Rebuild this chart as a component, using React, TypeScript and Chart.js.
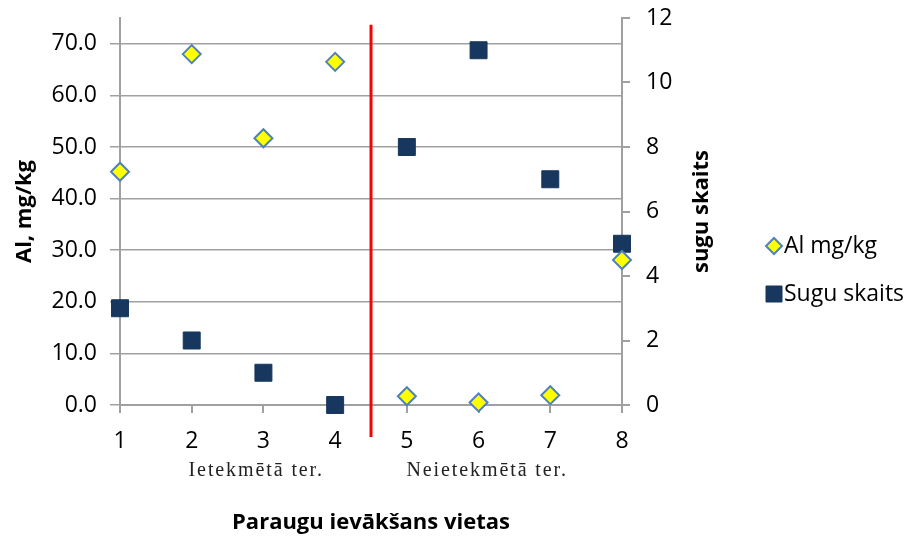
import React, { useEffect, useRef } from 'react';
import { Chart, registerables } from 'chart.js';

Chart.register(...registerables);

const sites = [1, 2, 3, 4, 5, 6, 7, 8];
const alValues = [45.2, 68.0, 51.7, 66.5, 1.7, 0.5, 1.9, 28.1];
const speciesCounts = [3, 2, 1, 0, 8, 11, 7, 5];
const leftTickValues = [0, 10, 20, 30, 40, 50, 60, 70];
const rightTickValues = [0, 2, 4, 6, 8, 10, 12];
const groupLabels = ['Ietekmētā ter.', 'Neietekmētā ter.'];
const groupCenters = [2.9, 6.12];
const dividerX = 4.5;
const dividerTop = 73.7;

const FONT = '"Open Sans"';
const TICK_SIZE = 23;
const TITLE_SIZE = 22;

function drawMarker(ctx: CanvasRenderingContext2D, style: string, x: number, y: number, half: number, fill: string, stroke: string, lw: number) {
  ctx.beginPath();
  if (style === 'rectRot') {
    ctx.moveTo(x, y - half);
    ctx.lineTo(x + half, y);
    ctx.lineTo(x, y + half);
    ctx.lineTo(x - half, y);
    ctx.closePath();
  } else {
    ctx.rect(x - half, y - half, half * 2, half * 2);
  }
  ctx.fillStyle = fill;
  ctx.fill();
  ctx.lineWidth = lw;
  ctx.strokeStyle = stroke;
  ctx.stroke();
}

const noOverhang = (s: any) => {
  s.paddingTop = 0;
  s.paddingBottom = 0;
};

const extrasPlugin = {
  id: 'extras',
  afterDatasetsDraw(chart: any) {
    const { ctx, chartArea } = chart;
    const xs = chart.scales.x;
    const ys = chart.scales.y;
    ctx.save();
    ctx.strokeStyle = '#FF0000';
    ctx.lineWidth = 3;
    const px = xs.getPixelForValue(dividerX);
    ctx.beginPath();
    ctx.moveTo(px, ys.getPixelForValue(dividerTop));
    ctx.lineTo(px, chartArea.bottom + 32);
    ctx.stroke();
    ctx.restore();
  },
  afterDraw(chart: any) {
    const { ctx, chartArea } = chart;
    const xs = chart.scales.x;
    ctx.save();
    // group labels under the x axis
    ctx.fillStyle = '#222';
    ctx.font = '20px "Liberation Serif"';
    (ctx as any).letterSpacing = '1.9px';
    ctx.textAlign = 'center';
    ctx.textBaseline = 'alphabetic';
    groupLabels.forEach((t, i) => {
      ctx.fillText(t, xs.getPixelForValue(groupCenters[i]), chartArea.bottom + 71);
    });
    (ctx as any).letterSpacing = '0px';

    // legend
    const legendX = 774;
    const legendY0 = 246;
    const legendGap = 48;
    ctx.font = `${TICK_SIZE}px ${FONT}`;
    ctx.textAlign = 'left';
    ctx.textBaseline = 'middle';
    chart.data.datasets.forEach((ds: any, i: number) => {
      const y = legendY0 + i * legendGap;
      drawMarker(ctx, ds.pointStyle, legendX, y, 8, ds.backgroundColor, ds.borderColor, ds.pointStyle === 'rectRot' ? 2 : 1);
      ctx.fillStyle = '#000';
      ctx.fillText(ds.label, 784, y);
    });

    // right axis title, reading bottom-to-top
    ctx.translate(702, (chartArea.top + chartArea.bottom) / 2);
    ctx.rotate(-Math.PI / 2);
    ctx.fillStyle = '#000';
    ctx.font = `bold ${TITLE_SIZE}px ${FONT}`;
    ctx.textAlign = 'center';
    ctx.textBaseline = 'middle';
    ctx.fillText('sugu skaits', 0, 0);
    ctx.restore();
  },
};

export default function App() {
  const ref = useRef<HTMLCanvasElement>(null);
  useEffect(() => {
    document.body.style.margin = '0';
    const gridGrey = '#A0A0A0';
    const chart = new Chart(ref.current as HTMLCanvasElement, {
      type: 'scatter',
      data: {
        datasets: [
          {
            label: 'Al mg/kg',
            data: sites.map((s, i) => ({ x: s, y: alValues[i] })),
            yAxisID: 'y',
            pointStyle: 'rectRot',
            pointRadius: 9,
            pointHoverRadius: 9,
            backgroundColor: '#FFFF00',
            borderColor: '#4F81BD',
            borderWidth: 2,
            clip: false,
            order: 1,
          },
          {
            label: 'Sugu skaits',
            data: sites.map((s, i) => ({ x: s, y: speciesCounts[i] })),
            yAxisID: 'y1',
            pointStyle: 'rect',
            pointRadius: 12,
            pointHoverRadius: 12,
            backgroundColor: '#17375E',
            borderColor: '#17375E',
            borderWidth: 1,
            clip: false,
            order: 2,
          },
        ],
      },
      options: {
        responsive: false,
        animation: false,
        layout: { padding: { top: 18, left: 0, right: 0, bottom: 0 } },
        plugins: {
          tooltip: { enabled: false },
          legend: { display: false },
        },
        scales: {
          x: {
            type: 'linear',
            min: 1,
            max: 8,
            afterBuildTicks: (s: any) => {
              s.ticks = sites.map((v) => ({ value: v }));
            },
            ticks: {
              color: '#000',
              font: { family: FONT, size: TICK_SIZE },
              padding: 15,
              callback: (v: any) => String(v),
            },
            grid: { drawOnChartArea: false, color: gridGrey, lineWidth: 2, tickLength: 8 },
            border: { color: gridGrey, width: 2 },
            title: {
              display: true,
              text: 'Paraugu ievākšans vietas',
              color: '#000',
              font: { family: FONT, size: TITLE_SIZE, weight: 'bold' },
              padding: { top: 0, bottom: 3 },
            },
            afterFit: (s: any) => {
              s.height = 134;
              s.paddingLeft = 0;
              s.paddingRight = 0;
            },
          },
          y: {
            position: 'left',
            min: 0,
            max: 75,
            afterBuildTicks: (s: any) => {
              s.ticks = leftTickValues.map((v) => ({ value: v }));
            },
            ticks: {
              color: '#000',
              font: { family: FONT, size: TICK_SIZE },
              padding: 13,
              callback: (v: any) => Number(v).toFixed(1),
            },
            grid: { color: gridGrey, lineWidth: 1.5, tickLength: 10 },
            border: { color: gridGrey, width: 2 },
            title: {
              display: true,
              text: 'Al, mg/kg',
              color: '#000',
              font: { family: FONT, size: TITLE_SIZE, weight: 'bold' },
              padding: { top: 12, bottom: 0 },
            },
            afterFit: (s: any) => {
              s.width = 120;
              noOverhang(s);
            },
          },
          y1: {
            position: 'right',
            min: 0,
            max: 12,
            afterBuildTicks: (s: any) => {
              s.ticks = rightTickValues.map((v) => ({ value: v }));
            },
            ticks: {
              color: '#000',
              font: { family: FONT, size: TICK_SIZE },
              padding: 16,
            },
            grid: { drawOnChartArea: false, color: gridGrey, lineWidth: 2, tickLength: 8 },
            border: { color: gridGrey, width: 2 },
            afterFit: (s: any) => {
              s.width = 290;
              noOverhang(s);
            },
          },
        },
      } as any,
      plugins: [extrasPlugin],
    });
    return () => chart.destroy();
  }, []);
  return (
    <div style={{ width: 912, height: 539, background: '#fff' }}>
      <canvas ref={ref} width={912} height={539} />
    </div>
  );
}
